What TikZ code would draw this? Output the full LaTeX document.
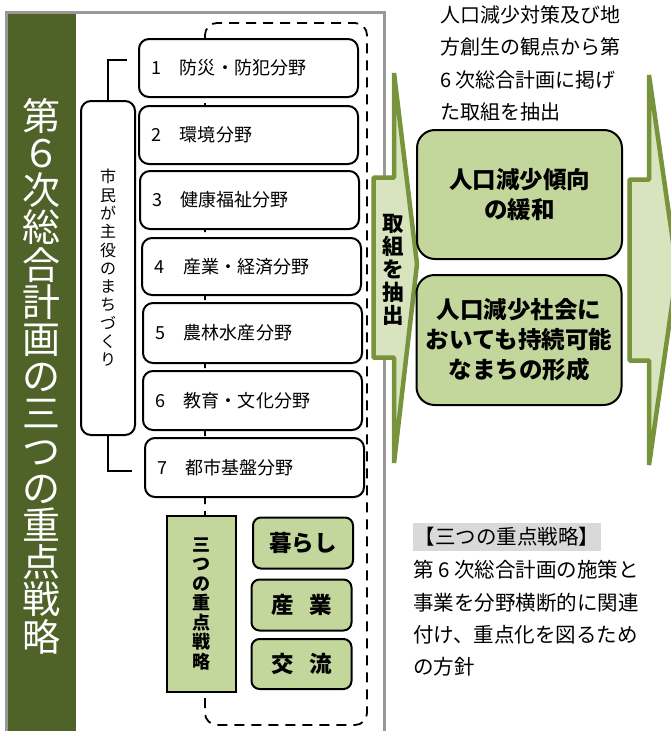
\documentclass[tikz,border=0pt]{standalone}
\usepackage{fontspec}
\setmainfont{Noto Sans CJK JP}
\definecolor{bandc}{HTML}{4F6228}
\definecolor{lgreen}{HTML}{C3D69B}
\definecolor{arrfill}{HTML}{D7E4BD}
\definecolor{arrline}{HTML}{77933C}
\definecolor{framec}{HTML}{999999}
\definecolor{headbg}{HTML}{D9D9D9}
\newcommand\fnum[1]{\makebox[29pt][l]{#1}}
\lineskiplimit=-40pt
\begin{document}
\begin{tikzpicture}[x=1pt,y=-1pt,
  field/.style={draw, line width=2pt, fill=white, rounded corners=10pt, minimum height=58pt,
    text width=195pt, inner xsep=12pt, align=left, font=\fontsize{18}{20}\selectfont},
  sbox/.style={draw, line width=2pt, fill=lgreen, rounded corners=8pt, minimum width=100pt,
    minimum height=51pt, inner sep=0pt, font=\bfseries\fontsize{22.5}{26}\selectfont},
  goal/.style={draw, line width=2pt, fill=lgreen, rounded corners=18pt, minimum width=205pt,
    minimum height=129pt, align=center, inner sep=0pt, font=\bfseries\fontsize{23.5}{30}\selectfont},
  arrowbody/.style={draw=arrline, fill=arrfill, line width=4.5pt, line join=bevel},
  line1/.style={anchor=base west, inner sep=0pt, font=\fontsize{20}{22}\selectfont},
  line2/.style={anchor=base west, inner sep=0pt, font=\fontsize{20.5}{22}\selectfont},
  brk/.style={line width=1.6pt}
]
\useasboundingbox (0,0) rectangle (670,731);
\fill[white] (0,0) rectangle (670,731);
% frame and band
\draw[framec, line width=3pt] (6.5,12.5) rectangle (384.5,760);
\fill[bandc] (8,14) rectangle (76,740);
\node[text=white, align=center, inner sep=0pt, font=\fontsize{38}{37.2}\selectfont] (title) at (42,376)
  {第\\６\\次\\総\\合\\計\\画\\の\\三\\つ\\の\\重\\点\\戦\\略};
% dashed frame
\draw[line width=1.8pt, dash pattern=on 10pt off 7pt, rounded corners=12pt] (205,23) rectangle (367,725);
% fields
\node[field] (f1) at (248.5,68) {\fnum{1}防災・防犯分野};
\node[field] (f2) at (248.5,135) {\fnum{2}環境分野};
\node[field] (f3) at (249.5,200) {\fnum{3}健康福祉分野};
\node[field, minimum height=57pt] (f4) at (251.5,266.5) {\fnum{4}産業・経済分野};
\node[field, minimum height=60pt] (f5) at (252.5,333) {\fnum{5}農林水産分野};
\node[field, minimum height=59pt] (f6) at (252.5,400.5) {\fnum{6}教育・文化分野};
\node[field, minimum height=59pt] (f7) at (254.5,467.5) {\fnum{7}都市基盤分野};
% citizens box
\node[draw, line width=2pt, fill=white, rounded corners=10pt, minimum width=54pt, minimum height=334pt,
  align=center, inner sep=0pt, font=\fontsize{16}{18.3}\selectfont] (cit) at (108,268)
  {市\\民\\が\\主\\役\\の\\ま\\ち\\づ\\く\\り};
\coordinate (b1) at (127,60);
\coordinate (b2) at (132,471);
\draw[brk] (cit.north) |- (b1);
\draw[brk] (cit.south) |- (b2);
% strategy
\node[draw, line width=2pt, fill=lgreen, minimum width=69pt, minimum height=176pt, align=center,
  inner sep=0pt, font=\bfseries\fontsize{18}{19.5}\selectfont] (strat) at (201.5,604)
  {三\\つ\\の\\重\\点\\戦\\略};
\node[sbox] (s1) at (303,543) {暮らし};
\node[sbox] (s2) at (301.5,605) {産\hspace{16pt}業};
\node[sbox, minimum height=50pt] (s3) at (301.5,664) {交\hspace{16pt}流};
% arrows
\draw[arrowbody] (373.5,177.5) -- (394,177.5) -- (394,73) -- (417,264) -- (394,463) -- (394,357.5) -- (373.5,357.5) -- cycle;
\node[align=center, inner sep=0pt, font=\bfseries\fontsize{21.5}{23}\selectfont] (ext) at (393,270) {取\\組\\を\\抽\\出};
\draw[arrowbody] (629.5,179.5) -- (649,179.5) -- (649,75) -- (677,270) -- (649,465) -- (649,360.5) -- (629.5,360.5) -- cycle;
% goals
\node[goal] (g1) at (519.5,194.5) {人口減少傾向\\の緩和};
\node[goal, minimum height=130pt] (g2) at (519,340) {人口減少社会に\\おいても持続可能\\なまちの形成};
% top text
\node[line1] (t1) at (440,22.5) {人口減少対策及び地};
\node[line1] (t2) at (440,54.5) {方創生の観点から第};
\node[line1] (t3) at (440,87.5) {6 次総合計画に掲げ};
\node[line1] (t4) at (440,119.5) {た取組を抽出};
% bottom text
\node[fill=headbg, minimum width=188pt, minimum height=28pt, inner sep=0pt, font=\fontsize{20.5}{22}\selectfont] (head) at (507,537) {【三つの重点戦略】};
\node[line2] (n1) at (413,577.6) {第 6 次総合計画の施策と};
\node[line2] (n2) at (413,610.6) {事業を分野横断的に関連};
\node[line2] (n3) at (413,642.6) {付け、重点化を図るため};
\node[line2] (n4) at (413,674.6) {の方針};
\end{tikzpicture}
\end{document}
